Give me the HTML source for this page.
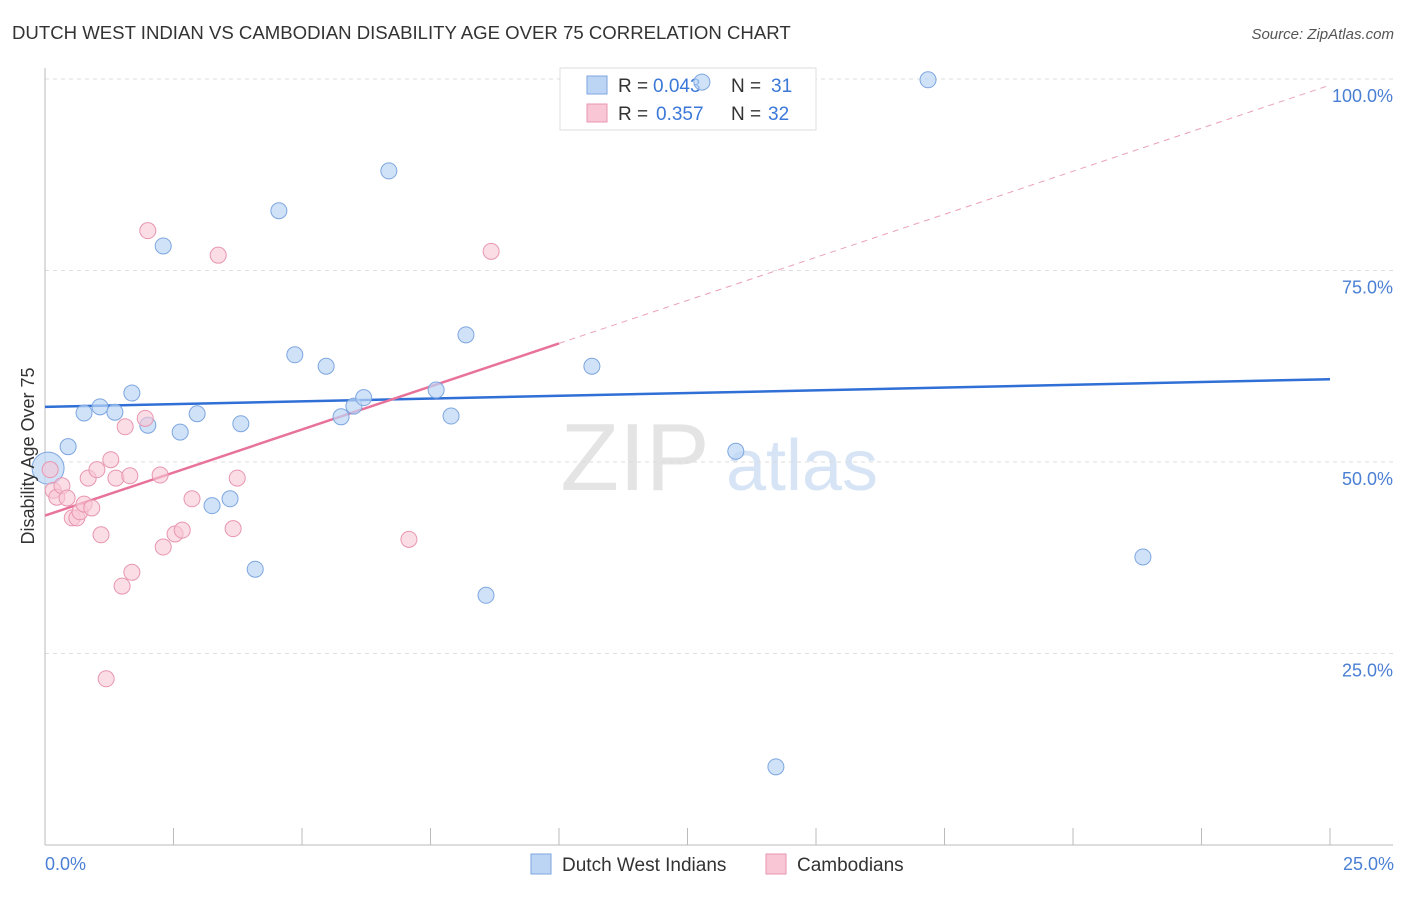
<!DOCTYPE html>
<html><head><meta charset="utf-8"><style>
body{margin:0;background:#fff;font-family:"Liberation Sans",sans-serif}
svg text{font-family:"Liberation Sans",sans-serif}
</style></head><body>
<svg id="chart" width="1406" height="892" xmlns="http://www.w3.org/2000/svg">
<text x="12" y="39" font-size="18.6" fill="#333">DUTCH WEST INDIAN VS CAMBODIAN DISABILITY AGE OVER 75 CORRELATION CHART</text>
<text x="1394" y="39" font-size="15" fill="#555" text-anchor="end" font-style="italic">Source: ZipAtlas.com</text>
<g>
<text x="635" y="490" font-size="96" fill="#e4e4e4" text-anchor="middle" font-family="Liberation Serif">ZIP</text>
<text x="802" y="490" font-size="72" fill="#d6e4f5" text-anchor="middle">atlas</text>
</g>
<g id="grid"></g>
<g id="axes"></g>
<g>
<rect x="560" y="68" width="256" height="62" fill="#fff" stroke="#ddd"/>
<rect x="587" y="76" width="20" height="18" fill="#bcd5f5" stroke="#7ea6e0"/>
<text x="618" y="92" font-size="19" fill="#333">R =</text>
<text x="653" y="92" font-size="19" fill="#3b78d8">0.043</text>
<text x="731" y="92" font-size="19" fill="#333">N =</text>
<text x="771" y="92" font-size="19" fill="#3b78d8">31</text>
<rect x="587" y="104" width="20" height="18" fill="#f8c6d5" stroke="#e896b0"/>
<text x="618" y="120" font-size="19" fill="#333">R =</text>
<text x="656" y="120" font-size="19" fill="#3b78d8">0.357</text>
<text x="731" y="120" font-size="19" fill="#333">N =</text>
<text x="768" y="120" font-size="19" fill="#3b78d8">32</text>
</g>
<g id="trends"></g>
<g id="points"></g>
<text transform="translate(34,456) rotate(-90)" font-size="18" fill="#333" text-anchor="middle">Disability Age Over 75</text>
<text x="45" y="870" font-size="18" fill="#4a7fd4">0.0%</text>
<text x="1394" y="870" font-size="18" fill="#4a7fd4" text-anchor="end">25.0%</text>
<g>
<rect x="531" y="854" width="20" height="20" fill="#bcd5f5" stroke="#7ea6e0"/>
<text x="562" y="871" font-size="19" fill="#333">Dutch West Indians</text>
<rect x="766" y="854" width="20" height="20" fill="#f8c6d5" stroke="#e896b0"/>
<text x="797" y="871" font-size="19" fill="#333">Cambodians</text>
</g>
</svg>
<script>
const blueX=[0.45,0.76,1.07,1.36,1.69,2.0,2.30,2.63,2.96,3.25,3.6,3.81,4.09,4.55,4.86,5.47,5.76,6.01,6.20,6.69,7.61,7.90,8.19,8.58,10.64,12.78,13.44,14.22,17.18,21.36,0.06];
const blueY=[52.0,56.4,57.2,56.5,59.0,54.8,78.2,53.9,56.3,44.3,45.2,55.0,36.0,82.8,64.0,62.5,55.9,57.3,58.4,88.0,59.4,56.0,66.6,32.6,62.5,99.6,51.4,10.2,99.9,37.6,49.2];
const pinkX=[0.1,0.16,0.23,0.33,0.43,0.53,0.62,0.68,0.76,0.91,0.84,1.01,1.09,1.28,1.38,1.5,1.56,1.65,1.69,1.95,2.0,2.24,2.3,2.53,2.67,2.86,3.37,3.66,3.74,7.08,8.68,1.19];
const pinkY=[49.0,46.3,45.4,46.9,45.3,42.7,42.7,43.5,44.5,44.0,47.9,49.0,40.5,50.3,47.9,33.8,54.6,48.2,35.6,55.7,80.2,48.3,38.9,40.6,41.1,45.2,77.0,41.3,47.9,39.9,77.5,21.7];
const blueTrend=[57.2,60.8];
const pinkTrend=[43.0,99.2];
const yTicks=[25,50,75,100];
const yTickLabels=["25.0%","50.0%","75.0%","100.0%"];
const xTicks=[0,2.5,5,7.5,10,12.5,15,17.5,20,22.5,25];
const NS="http://www.w3.org/2000/svg";
const X=v=>45+v*51.4, Y=v=>845-v*7.66;
function mk(p,t,a){const e=document.createElementNS(NS,t);for(const k in a)e.setAttribute(k,a[k]);document.getElementById(p).appendChild(e);return e;}
yTicks.forEach((t,i)=>{
 const g=mk('grid','line',{x1:45,x2:1393,y1:Y(t),y2:Y(t),stroke:'#ddd','stroke-dasharray':'4,4'});
 
 
 const l=mk('grid','text',{x:1393,y:Y(t)+23,'font-size':18,fill:'#4a7fd4','text-anchor':'end'});
 l.textContent=yTickLabels[i];
 
 
});
const ya=mk('axes','line',{x1:45,x2:45,y1:68,y2:845,stroke:'#bbb'});


const xa=mk('axes','line',{x1:45,x2:1393,y1:845,y2:845,stroke:'#bbb'});


xTicks.forEach(t=>{const k=mk('axes','line',{x1:X(t),x2:X(t),y1:828,y2:845,stroke:'#bbb'});
 
 });
const bt=mk('trends','line',{x1:X(0),y1:Y(blueTrend[0]),x2:X(25),y2:Y(blueTrend[1]),stroke:'#2f6fd6','stroke-width':2.5});


const pAt=x=>pinkTrend[0]+(pinkTrend[1]-pinkTrend[0])*x/25;
const pt=mk('trends','line',{x1:X(0),y1:Y(pAt(0)),x2:X(10),y2:Y(pAt(10)),stroke:'#e8739a','stroke-width':2.5});


const pd=mk('trends','line',{x1:X(10),y1:Y(pAt(10)),x2:X(25),y2:Y(pAt(25)),stroke:'#eaa0b8','stroke-width':1,'stroke-dasharray':'6,5'});


blueX.forEach((x,i)=>{const c=mk('points','circle',{cx:X(x),cy:Y(blueY[i]),r:i==30?16:8,fill:'#bcd5f5','fill-opacity':0.7,stroke:'#7ea6e0','stroke-width':1});
 
 });
pinkX.forEach((x,i)=>{const c=mk('points','circle',{cx:X(x),cy:Y(pinkY[i]),r:8,fill:'#f8c6d5','fill-opacity':0.6,stroke:'#e896b0','stroke-width':1});
 
 });
</script>
</body></html>
